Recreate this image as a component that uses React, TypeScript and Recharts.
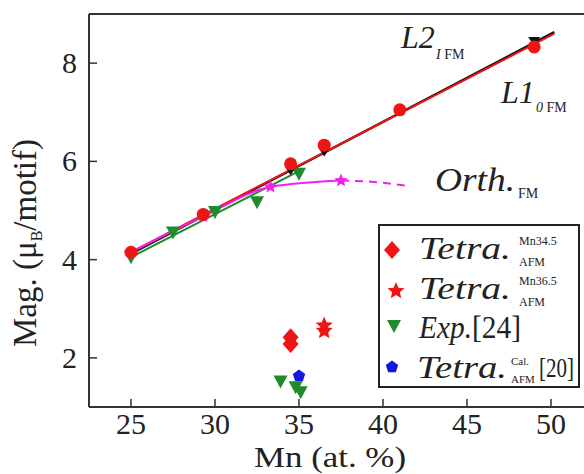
import React from 'react';
import { ComposedChart, Line, Scatter, XAxis, YAxis, ReferenceLine } from 'recharts';

// Mn content (at. %) and magnetization (muB / motif)
const xTicks = [25, 30, 35, 40, 45, 50];
const yTicks = [2, 4, 6, 8];

// linear fits for the two FM lattices
const fitMn = [25, 50.2];
const fitL1Mag = [4.15, 8.6];
const fitL2Mag = [4.12, 8.63];

// calculated FM points
const l1Mn = [25, 29.3, 34.5, 36.5, 41, 49];
const l1Mag = [4.15, 4.92, 5.95, 6.33, 7.05, 8.33];
const l2Mn = [34.5, 36.5, 49];
const l2Mag = [5.82, 6.2, 8.45];

// orthorhombic FM
const orthMn = [25, 29.3, 33.3, 37.5];
const orthMag = [4.15, 4.88, 5.48, 5.61];
const orthExtMn = [37.5, 39.5, 41.5];
const orthExtMag = [5.61, 5.58, 5.5];

// experiment [24]
const expFitMn = [25, 35];
const expFitMag = [4.05, 5.8];
const expMn = [25, 27.5, 30, 32.5, 35, 33.9, 34.8, 35.1];
const expMag = [4.05, 4.55, 4.97, 5.17, 5.75, 1.52, 1.4, 1.3];

// tetragonal AFM
const tetra345Mn = [34.5, 34.5];
const tetra345Mag = [2.28, 2.42];
const tetra365Mn = [36.5, 36.5];
const tetra365Mag = [2.55, 2.66];
const tetraCalMn = [35];
const tetraCalMag = [1.63];

const RED = '#f01414';
const GREEN = '#1f8c2c';
const MAGENTA = '#ee22ee';
const BLUE = '#1515e6';
const INK = '#222';
const FONT = '"Liberation Serif", "DejaVu Serif", serif';

const rows = (xs: number[], ys: number[]) => xs.map((x, i) => ({ x, y: ys[i] }));

const starPath = (cx: number, cy: number, R: number) => {
  const r = R * 0.45;
  let d = '';
  for (let i = 0; i < 10; i++) {
    const a = -Math.PI / 2 + (i * Math.PI) / 5;
    const rr = i % 2 === 0 ? R : r;
    d += `${i === 0 ? 'M' : 'L'}${cx + rr * Math.cos(a)},${cy + rr * Math.sin(a)}`;
  }
  return d + 'Z';
};

const pentagonPath = (cx: number, cy: number, R: number) => {
  let d = '';
  for (let i = 0; i < 5; i++) {
    const a = -Math.PI / 2 + (i * 2 * Math.PI) / 5;
    d += `${i === 0 ? 'M' : 'L'}${cx + R * Math.cos(a)},${cy + R * Math.sin(a)}`;
  }
  return d + 'Z';
};

const Circle = (p: any) => <circle cx={p.cx} cy={p.cy} r={6.5} fill={RED} />;
const BlackTri = (p: any) => (
  <path d={`M${p.cx - 6},${p.cy - 4}L${p.cx + 6},${p.cy - 4}L${p.cx},${p.cy + 5}Z`} fill="#111" />
);
const MagStar = (p: any) => <path d={starPath(p.cx, p.cy, 7)} fill={MAGENTA} />;
const DownTri = (p: any) => (
  <path d={`M${p.cx - 7},${p.cy - 6}L${p.cx + 7},${p.cy - 6}L${p.cx},${p.cy + 7}Z`} fill={GREEN} />
);
const Diamond = (p: any) => (
  <path d={`M${p.cx},${p.cy - 9}L${p.cx + 8},${p.cy}L${p.cx},${p.cy + 9}L${p.cx - 8},${p.cy}Z`} fill={RED} />
);
const RedStar = (p: any) => <path d={starPath(p.cx, p.cy, 9)} fill={RED} />;
const Pentagon = (p: any) => <path d={pentagonPath(p.cx, p.cy, 6.5)} fill={BLUE} />;

const XTick = ({ x, y, payload }: any) => (
  <g>
    <line x1={x} y1={y} x2={x} y2={y - 8} stroke="#333" strokeWidth={1.5} />
    <text x={x} y={y + 27} textAnchor="middle" fontSize={30} fontFamily={FONT} fill={INK}>
      {payload.value}
    </text>
  </g>
);

const YTick = ({ x, y, payload }: any) => (
  <g>
    <line x1={x} y1={y} x2={x + 8} y2={y} stroke="#333" strokeWidth={1.5} />
    <text x={x - 12} y={y + 10} textAnchor="end" fontSize={30} fontFamily={FONT} fill={INK}>
      {payload.value}
    </text>
  </g>
);

const Sym = ({ kind, cx, cy }: { kind: string; cx: number; cy: number }) => {
  if (kind === 'diamond') return <Diamond cx={cx} cy={cy} />;
  if (kind === 'star') return <RedStar cx={cx} cy={cy} />;
  if (kind === 'tri') return <DownTri cx={cx} cy={cy} />;
  return <Pentagon cx={cx} cy={cy} />;
};

// legend box drawn over the plot, lower right
const LegendBox = () => (
  <svg width={206} height={166} style={{ position: 'absolute', left: 377, top: 223 }}>
    <rect x={2} y={2} width={200} height={162} fill="#fff" stroke="#222" strokeWidth={2} />
    <g fontFamily={FONT} fill={INK}>
      <Sym kind="diamond" cx={15} cy={27} />
      <text x={42} y={36} fontSize={31} fontStyle="italic" textLength={92} lengthAdjust="spacingAndGlyphs">Tetra.</text>
      <text x={142} y={22} fontSize={12}>Mn34.5</text>
      <text x={142} y={43} fontSize={12}>AFM</text>

      <Sym kind="star" cx={19} cy={68} />
      <text x={42} y={76} fontSize={31} fontStyle="italic" textLength={92} lengthAdjust="spacingAndGlyphs">Tetra.</text>
      <text x={142} y={62} fontSize={12}>Mn36.5</text>
      <text x={142} y={83} fontSize={12}>AFM</text>

      <Sym kind="tri" cx={17} cy={103} />
      <text x={42} y={115} fontSize={31} textLength={102} lengthAdjust="spacingAndGlyphs">
        <tspan fontStyle="italic">Exp.</tspan>[24]
      </text>

      <Sym kind="pent" cx={15} cy={144} />
      <text x={40} y={155} fontSize={31} fontStyle="italic" textLength={90} lengthAdjust="spacingAndGlyphs">Tetra.</text>
      <text x={134} y={142} fontSize={11}>Cal.</text>
      <text x={134} y={160} fontSize={11}>AFM</text>
      <text x={162} y={154} fontSize={27} textLength={35} lengthAdjust="spacingAndGlyphs">[20]</text>
    </g>
  </svg>
);

export default function App() {
  return (
    <div style={{ position: 'absolute', left: 0, top: 0, width: 584, height: 474, overflow: 'hidden', background: '#fff' }}>
      <ComposedChart width={620} height={474} margin={{ top: 14, right: 27, bottom: 0, left: 0 }}>
        <XAxis
          type="number"
          dataKey="x"
          domain={[22.5, 52.5]}
          ticks={xTicks}
          allowDataOverflow
          height={67}
          tickSize={0}
          tickMargin={0}
          tickLine={false}
          tick={<XTick />}
          axisLine={{ stroke: '#333', strokeWidth: 2 }}
        />
        <YAxis
          type="number"
          dataKey="y"
          domain={[1, 9]}
          ticks={yTicks}
          allowDataOverflow
          width={89}
          tickSize={0}
          tickMargin={0}
          tickLine={false}
          tick={<YTick />}
          axisLine={{ stroke: '#333', strokeWidth: 2 }}
        />
        <ReferenceLine y={9} stroke="#333" strokeWidth={2} />

        <Line data={rows(fitMn, fitL2Mag)} dataKey="y" stroke="#111" strokeWidth={2.5} dot={false} isAnimationActive={false} />
        <Line data={rows(fitMn, fitL1Mag)} dataKey="y" stroke={RED} strokeWidth={2} dot={false} isAnimationActive={false} />
        <Line data={rows(expFitMn, expFitMag)} dataKey="y" stroke={GREEN} strokeWidth={2} dot={false} isAnimationActive={false} />
        <Line data={rows(orthMn, orthMag)} type="monotone" dataKey="y" stroke={MAGENTA} strokeWidth={2} dot={false} isAnimationActive={false} />
        <Line data={rows(orthExtMn, orthExtMag)} type="monotone" dataKey="y" stroke={MAGENTA} strokeWidth={2} strokeDasharray="8 6" dot={false} isAnimationActive={false} />

        <Scatter data={rows(expMn, expMag)} shape={<DownTri />} isAnimationActive={false} />
        <Scatter data={rows(orthMn, orthMag)} shape={<MagStar />} isAnimationActive={false} />
        <Scatter data={rows(l2Mn, l2Mag)} shape={<BlackTri />} isAnimationActive={false} />
        <Scatter data={rows(l1Mn, l1Mag)} shape={<Circle />} isAnimationActive={false} />
        <Scatter data={rows(tetra345Mn, tetra345Mag)} shape={<Diamond />} isAnimationActive={false} />
        <Scatter data={rows(tetra365Mn, tetra365Mag)} shape={<RedStar />} isAnimationActive={false} />
        <Scatter data={rows(tetraCalMn, tetraCalMag)} shape={<Pentagon />} isAnimationActive={false} />
      </ComposedChart>

      <LegendBox />

      <svg width={584} height={474} style={{ position: 'absolute', left: 0, top: 0, pointerEvents: 'none' }}>
        <g fontFamily={FONT} fill={INK}>
          {/* axis titles */}
          <text x={254} y={467} fontSize={29} textLength={152} lengthAdjust="spacingAndGlyphs">Mn (at. %)</text>
          <text transform="translate(36, 347) rotate(-90)" fontSize={33}>
            Mag. (μ<tspan fontSize={16} dy={6}>B</tspan>
            <tspan dy={-6}>/motif)</tspan>
          </text>

          {/* curve annotations */}
          <text x={401} y={48} fontSize={32} fontStyle="italic">L2</text>
          <text x={436} y={59} fontSize={14}>
            <tspan fontStyle="italic">I</tspan> FM
          </text>
          <text x={501} y={103} fontSize={32} fontStyle="italic">L1</text>
          <text x={536} y={112} fontSize={14}>
            <tspan fontStyle="italic">0</tspan> FM
          </text>
          <text x={435} y={191} fontSize={33} fontStyle="italic" textLength={80} lengthAdjust="spacingAndGlyphs">Orth.</text>
          <text x={518} y={198} fontSize={14}>FM</text>
        </g>
      </svg>
    </div>
  );
}
